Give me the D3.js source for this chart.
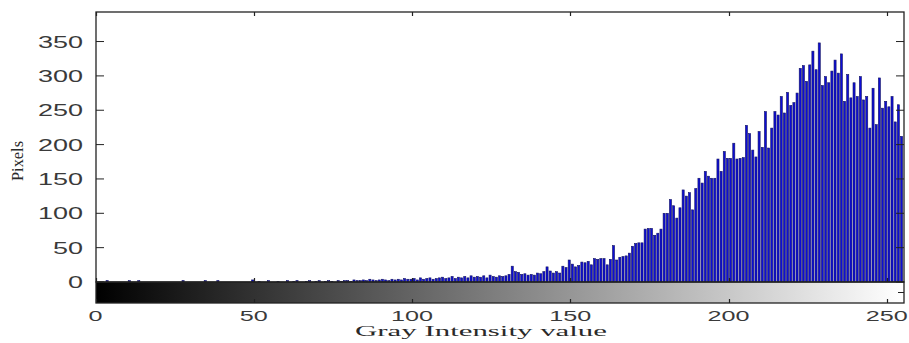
<!DOCTYPE html>
<html>
<head>
<meta charset="utf-8">
<script src="https://cdn.jsdelivr.net/npm/d3@7/dist/d3.min.js"></script>
<style>
  html, body { margin: 0; padding: 0; background: #fff; }
  svg { display: block; }
</style>
</head>
<body>
<svg id="chart" width="909" height="343"></svg>
<script>
// Gray-level histogram: pixel counts for each intensity 0..255
const intensities = d3.range(256);
const pixelCounts = [
  // 0-49
  0,0,0,0,2,0,0,0,0,0, 0,2,0,0,2,0,0,0,0,0, 0,0,0,0,0,0,0,0,2,0,
  0,0,0,0,0,2,0,0,0,2, 0,0,0,0,0,0,0,0,0,0,
  // 50-99
  3,0,1,0,0,2,0,0,1,0, 0,2,0,1,2,0,0,1,2,0, 1,2,0,1,2,1,0,2,1,2,
  2,1,3,2,2,3,2,4,3,2, 3,4,3,2,4,3,4,3,5,4,
  // 100-129
  4,5,3,6,4,5,6,4,5,6, 7,5,6,8,5,7,6,8,6,9, 7,8,7,9,6,10,8,7,9,8,
  // 130-179
  9,11,23,15,14,11,12,10,11,10, 13,12,15,22,16,13,15,13,23,21,
  32,26,22,24,29,28,30,25,34,33, 34,34,25,33,53,32,36,37,38,42,
  52,56,57,57,77,78,78,68,71,77,
  // 180-229
  100,100,120,111,93,108,134,125,130,105, 136,151,144,161,154,151,151,179,161,190,
  180,180,202,179,180,181,228,216,192,182, 219,196,248,195,224,248,243,270,246,276,
  257,261,275,311,315,292,316,336,309,348,
  // 230-255
  286,299,290,307,323,304,332,263,302,268, 290,270,299,265,270,224,282,229,297,253,
  263,255,270,233,258,212
];
const xTicks = [0, 50, 100, 150, 200, 250];
const yTicks = [0, 50, 100, 150, 200, 250, 300, 350];

const svg = d3.select("#chart");
const plotLeft = 96, plotRight = 904, plotTop = 12, zeroY = 282, rampBottom = 303;

const x = d3.scaleLinear().domain([0, 255.45]).range([95.5, plotRight]);
const y = d3.scaleLinear().domain([0, 393]).range([zeroY, plotTop]);

// histogram bars
svg.append("clipPath").attr("id", "plotClip")
  .append("rect").attr("x", plotLeft).attr("y", plotTop)
  .attr("width", plotRight - plotLeft).attr("height", zeroY - plotTop);

const barSpan = 0.66;
const bars = svg.append("g").attr("clip-path", "url(#plotClip)");
bars.selectAll("rect")
  .data(intensities)
  .join("rect")
  .attr("x", i => x(i - barSpan))
  .attr("width", i => x(i) - x(i - barSpan))
  .attr("y", i => y(pixelCounts[i]))
  .attr("height", i => zeroY - y(pixelCounts[i]))
  .attr("fill", "#0d0dd6")
  .attr("stroke", "#141460")
  .attr("stroke-width", 0.6);

// grayscale colorbar under the axes
const grad = svg.append("defs").append("linearGradient")
  .attr("id", "grayRamp").attr("x1", "0%").attr("x2", "100%");
grad.append("stop").attr("offset", "0%").attr("stop-color", "#000");
grad.append("stop").attr("offset", (x(255) - plotLeft) / (plotRight - plotLeft) * 100 + "%").attr("stop-color", "#fff");
grad.append("stop").attr("offset", "100%").attr("stop-color", "#fff");
svg.append("rect")
  .attr("x", plotLeft).attr("y", zeroY).attr("width", plotRight - plotLeft).attr("height", rampBottom - zeroY)
  .attr("fill", "url(#grayRamp)");

const ink = "#222";
// main axes frame
svg.append("rect")
  .attr("x", plotLeft).attr("y", plotTop).attr("width", plotRight - plotLeft).attr("height", zeroY - plotTop)
  .attr("fill", "none").attr("stroke", ink).attr("stroke-width", 1.3);
// colorbar frame
svg.append("rect")
  .attr("x", plotLeft).attr("y", zeroY).attr("width", plotRight - plotLeft).attr("height", rampBottom - zeroY)
  .attr("fill", "none").attr("stroke", ink).attr("stroke-width", 1.3);

// y ticks, inward on both sides
const yt = svg.append("g");
yTicks.forEach(v => {
  yt.append("line").attr("x1", plotLeft).attr("x2", plotLeft + 8).attr("y1", y(v)).attr("y2", y(v))
    .attr("stroke", ink).attr("stroke-width", 1);
  yt.append("line").attr("x1", plotRight - 8).attr("x2", plotRight).attr("y1", y(v)).attr("y2", y(v))
    .attr("stroke", ink).attr("stroke-width", 1);
  const w = String(v).length * 15;
  yt.append("text")
    .attr("x", 83).attr("y", y(v) + 6)
    .attr("text-anchor", "end")
    .attr("font-family", "Liberation Sans, Arial, sans-serif")
    .attr("font-size", 16)
    .attr("fill", "#3a3a3a")
    .attr("textLength", w).attr("lengthAdjust", "spacingAndGlyphs")
    .text(v);
});

// x ticks on the top edge and on the colorbar edges
const xt = svg.append("g");
xTicks.forEach(v => {
  const px = Math.round(x(v)) + 0.5;
  xt.append("line").attr("x1", px).attr("x2", px).attr("y1", plotTop).attr("y2", plotTop + 4)
    .attr("stroke", ink).attr("stroke-width", 1.2);
  xt.append("line").attr("x1", px).attr("x2", px).attr("y1", zeroY).attr("y2", zeroY - 4)
    .attr("stroke", ink).attr("stroke-width", 1.2);
  xt.append("line").attr("x1", px).attr("x2", px).attr("y1", rampBottom).attr("y2", rampBottom - 4)
    .attr("stroke", ink).attr("stroke-width", 1.2);
  const w = String(v).length * 14;
  xt.append("text")
    .attr("x", x(v)).attr("y", 321)
    .attr("text-anchor", "middle")
    .attr("font-family", "Liberation Sans, Arial, sans-serif")
    .attr("font-size", 15)
    .attr("fill", "#3a3a3a")
    .attr("textLength", w).attr("lengthAdjust", "spacingAndGlyphs")
    .text(v);
});
// small tick on the colorbar's right edge
svg.append("line").attr("x1", plotRight - 6).attr("x2", plotRight).attr("y1", 292.5).attr("y2", 292.5)
  .attr("stroke", ink).attr("stroke-width", 1);

// axis titles
svg.append("text")
  .attr("x", 481).attr("y", 336)
  .attr("text-anchor", "middle")
  .attr("font-family", "Liberation Serif, Times New Roman, serif")
  .attr("font-size", 14)
  .attr("fill", "#2a2a2a")
  .attr("textLength", 252).attr("lengthAdjust", "spacingAndGlyphs")
  .text("Gray Intensity value");

svg.append("text")
  .attr("transform", "translate(23,161) rotate(-90)")
  .attr("text-anchor", "middle")
  .attr("font-family", "Liberation Serif, Times New Roman, serif")
  .attr("font-size", 17)
  .attr("fill", "#2a2a2a")
  .attr("textLength", 40).attr("lengthAdjust", "spacingAndGlyphs")
  .text("Pixels");
</script>
</body>
</html>
